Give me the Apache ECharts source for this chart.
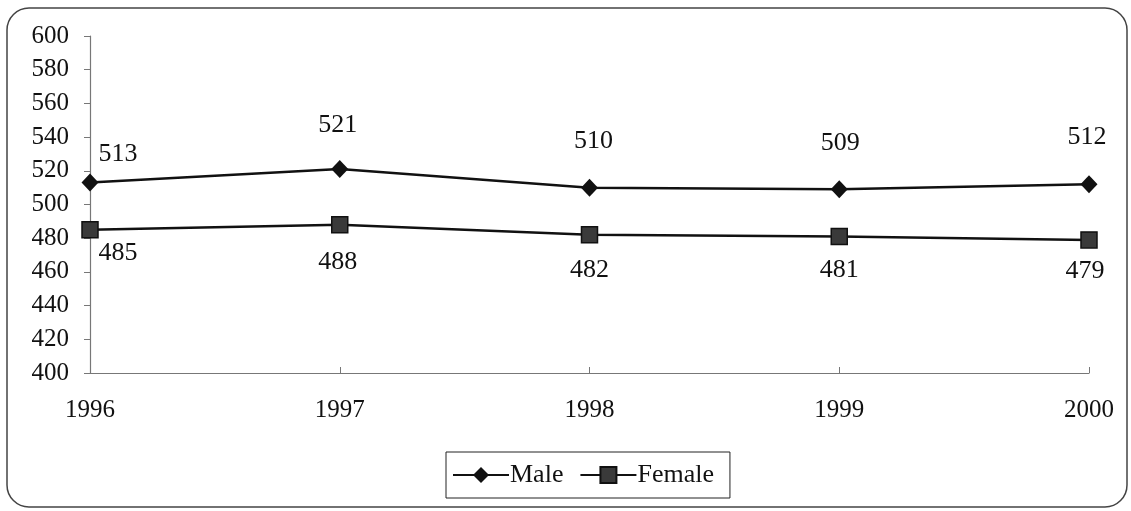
<!DOCTYPE html>
<html><head><meta charset="utf-8">
<script src="https://cdn.jsdelivr.net/npm/echarts@6/dist/echarts.min.js"></script>
<style>html,body{margin:0;padding:0;background:#fff}#c{width:1131px;height:511px}</style>
</head><body><div id="c"></div>
<script>
const years = ['1996','1997','1998','1999','2000'];
const male = [513, 521, 510, 509, 512];
const female = [485, 488, 482, 481, 479];
const yTicks = {min: 400, max: 600, interval: 20};

// label placement (pixels relative to marker)
const maleLabelOffsets = [[28,-28],[-2,-44],[4,-46],[1,-46],[-2,-47]];
const femaleLabelOffsets = [[28,23],[-2,37],[0,35],[0,34],[-4,31]];

const font = '"Liberation Serif", "Times New Roman", serif';

function mk(vals, offs){
  return vals.map((v,i)=>({value:v, label:{offset:offs[i]}}));
}

const chart = echarts.init(document.getElementById('c'), null, {renderer:'canvas'});
chart.setOption({
  backgroundColor:'#fff',
  animation:false,
  graphic:[{type:'rect', shape:{x:7,y:8,width:1120,height:499,r:22}, style:{fill:'none',stroke:'#444',lineWidth:1.5}, z:-1}],
  grid:{left:90, right:42, top:36, bottom:138, containLabel:false},
  legend:{
    top:452, left:446,
    data:['Male','Female'],
    itemWidth:56, itemHeight:20, itemGap:16,
    borderColor:'#222', borderWidth:1, padding:[10,16,10,6],
    textStyle:{fontFamily:font, fontSize:26, color:'#111', padding:[0,0,0,-4]}
  },
  xAxis:{
    type:'category', data:years, boundaryGap:false,
    axisLine:{lineStyle:{color:'#777', width:1.2}},
    axisTick:{inside:true, length:6, lineStyle:{color:'#777'}},
    axisLabel:{margin:25, fontFamily:font, fontSize:25, color:'#111'},
    splitLine:{show:false}
  },
  yAxis:{
    type:'value', min:yTicks.min, max:yTicks.max, interval:yTicks.interval,
    axisLine:{show:true, lineStyle:{color:'#777', width:1.2}},
    axisTick:{show:true, length:6, lineStyle:{color:'#777'}},
    axisLabel:{margin:21, fontFamily:font, fontSize:25, color:'#111'},
    splitLine:{show:false}
  },
  series:[
    {name:'Male', type:'line', data:mk(male, maleLabelOffsets),
     symbol:'diamond', symbolSize:[17,18],
     lineStyle:{color:'#111', width:2.5}, itemStyle:{color:'#111'},
     label:{show:true, position:'inside', fontFamily:font, fontSize:26, color:'#111'}},
    {name:'Female', type:'line', data:mk(female, femaleLabelOffsets),
     symbol:'rect', symbolSize:16,
     lineStyle:{color:'#111', width:2.5}, itemStyle:{color:'#3a3a3a', borderColor:'#111', borderWidth:1.5},
     label:{show:true, position:'inside', fontFamily:font, fontSize:26, color:'#111'}}
  ]
});
</script></body></html>
